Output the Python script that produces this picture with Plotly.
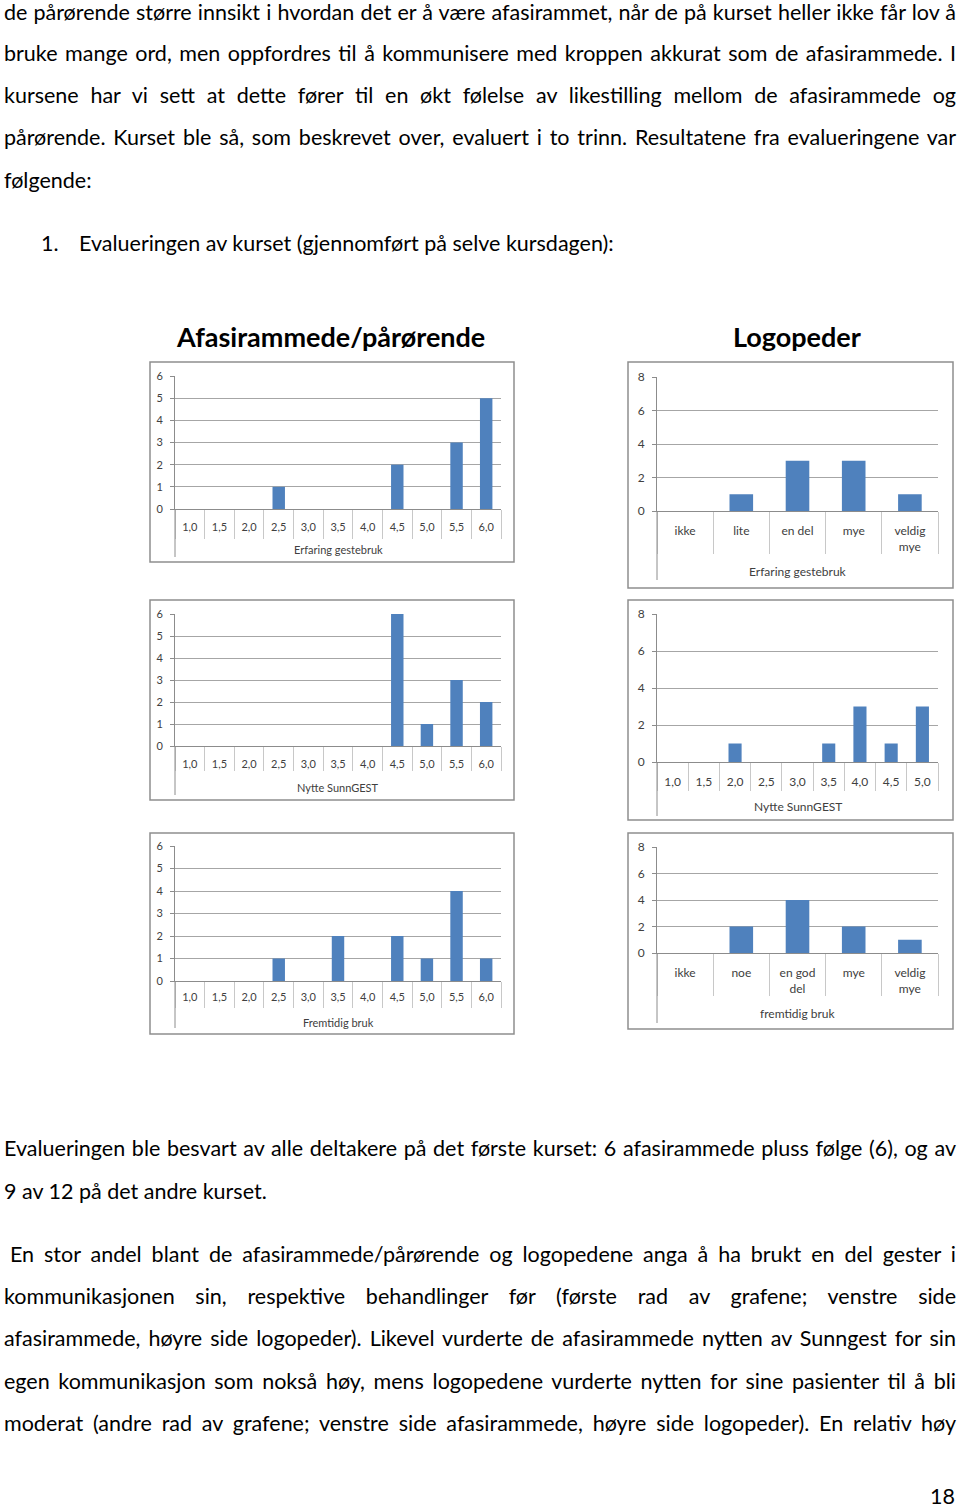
import json
import plotly.graph_objects as go

W, H = 960, 1509

# ---------------- data ----------------
afasi_cats = ["1,0", "1,5", "2,0", "2,5", "3,0", "3,5", "4,0", "4,5", "5,0", "5,5", "6,0"]
afasi_erfaring = [0, 0, 0, 1, 0, 0, 0, 2, 0, 3, 5]
afasi_nytte = [0, 0, 0, 0, 0, 0, 0, 6, 1, 3, 2]
afasi_fremtidig = [0, 0, 0, 1, 0, 2, 0, 2, 1, 4, 1]

logo_erfaring_cats = ["ikke", "lite", "en del", "mye", "veldig<br>mye"]
logo_erfaring = [0, 1, 3, 3, 1]
logo_nytte_cats = ["1,0", "1,5", "2,0", "2,5", "3,0", "3,5", "4,0", "4,5", "5,0"]
logo_nytte = [0, 0, 1, 0, 0, 1, 3, 1, 3]
logo_fremtidig_cats = ["ikke", "noe", "en god<br>del", "mye", "veldig<br>mye"]
logo_fremtidig = [0, 2, 4, 2, 1]

axis_titles = ["Erfaring gestebruk", "Erfaring gestebruk", "Nytte SunnGEST",
               "Nytte SunnGEST", "Fremtidig bruk", "fremtidig bruk"]
group_titles = ["Afasirammede/pårørende", "Logopeder"]

top_lines = [
    "de pårørende større innsikt i hvordan det er å være afasirammet, når de på kurset heller ikke får lov å",
    "bruke mange ord, men oppfordres til å kommunisere med kroppen akkurat som de afasirammede. I",
    "kursene har vi sett at dette fører til en økt følelse av likestilling mellom de afasirammede og",
    "pårørende. Kurset ble så, som beskrevet over, evaluert i to trinn. Resultatene fra evalueringene var",
    "følgende:",
]
list_number = "1."
list_item = "Evalueringen av kurset (gjennomført på selve kursdagen):"
bottom_lines = [
    "Evalueringen ble besvart av alle deltakere på det første kurset: 6 afasirammede pluss følge (6), og av",
    "9 av 12 på det andre kurset.",
    "En stor andel blant de afasirammede/pårørende og logopedene anga å ha brukt en del gester i",
    "kommunikasjonen sin, respektive behandlinger før (første rad av grafene; venstre side",
    "afasirammede, høyre side logopeder). Likevel vurderte de afasirammede nytten av Sunngest for sin",
    "egen kommunikasjon som nokså høy, mens logopedene vurderte nytten for sine pasienter til å bli",
    "moderat (andre rad av grafene; venstre side afasirammede, høyre side logopeder). En relativ høy",
]
page_number = "18"

# ---------------- layout helpers ----------------
def fx(p):
    return p / W

def fy(p):
    return 1 - p / H

BAR = "#4f81bd"
GRID = "#a6a6a6"
AXC = "#8c8c8c"
BOX = "#8e8e8e"
TXT = "#404040"
FONT = "Lato"

# panel geometry (pixels)
panels = [
    dict(cats=afasi_cats, vals=afasi_erfaring, box=(150, 362, 514, 562), x0=175, x1=501,
         ytop=376, yzero=509, ymax=6, dtick=1, tl=29, abot=557, fs=11, ty=549, so=8),
    dict(cats=logo_erfaring_cats, vals=logo_erfaring, box=(628, 362, 953, 588), x0=657, x1=938,
         ytop=377, yzero=511, ymax=8, dtick=2, tl=42, abot=580, fs=12, ty=572, so=9),
    dict(cats=afasi_cats, vals=afasi_nytte, box=(150, 600, 514, 800), x0=175, x1=501,
         ytop=614, yzero=746, ymax=6, dtick=1, tl=24, abot=795, fs=11, ty=787, so=8),
    dict(cats=logo_nytte_cats, vals=logo_nytte, box=(628, 600, 953, 820), x0=657, x1=938,
         ytop=614, yzero=762, ymax=8, dtick=2, tl=28, abot=816, fs=12, ty=806, so=9),
    dict(cats=afasi_cats, vals=afasi_fremtidig, box=(150, 833, 514, 1034), x0=175, x1=501,
         ytop=846, yzero=981, ymax=6, dtick=1, tl=26, abot=1028, fs=11, ty=1022, so=6),
    dict(cats=logo_fremtidig_cats, vals=logo_fremtidig, box=(628, 833, 953, 1029), x0=657, x1=938,
         ytop=847, yzero=953, ymax=8, dtick=2, tl=42, abot=1023, fs=12, ty=1013, so=9),
]

fig = go.Figure()
shapes = []
annotations = []
layout_axes = {}

for i, p in enumerate(panels, start=1):
    xa = f"x{i}"
    ya = f"y{i}"
    fig.add_trace(go.Bar(x=p["cats"], y=p["vals"], xaxis=xa, yaxis=ya,
                         marker=dict(color=BAR, line=dict(width=0)),
                         hoverinfo="skip", showlegend=False))
    bx0, by0, bx1, by1 = p["box"]
    shapes.append(dict(type="rect", xref="paper", yref="paper",
                       x0=fx(bx0), x1=fx(bx1), y0=fy(by1), y1=fy(by0),
                       line=dict(color=BOX, width=1.5), fillcolor="white", layer="below"))
    shapes.append(dict(type="line", xref="paper", yref="paper",
                       x0=fx(p["x0"]), x1=fx(p["x0"]), y0=fy(p["yzero"]), y1=fy(p["abot"]),
                       line=dict(color=AXC, width=1), layer="above"))
    n = len(p["cats"])
    layout_axes[f"xaxis{i}"] = dict(
        domain=[fx(p["x0"]), fx(p["x1"])], anchor=ya, type="category",
        categoryorder="array", categoryarray=p["cats"], range=[-0.5, n - 0.5],
        tickson="boundaries", ticks="outside", ticklen=p["tl"], tickcolor="#c8c8c8",
        tickwidth=1, showline=True, linecolor=AXC, linewidth=1, showgrid=False,
        tickfont=dict(family=FONT, size=p["fs"], color=TXT), ticklabelstandoff=p["so"],
        fixedrange=True, zeroline=False, automargin=False)
    layout_axes[f"yaxis{i}"] = dict(
        domain=[fy(p["yzero"]), fy(p["ytop"])], anchor=xa, range=[0, p["ymax"]],
        dtick=p["dtick"], tick0=0, showgrid=True, gridcolor=GRID, gridwidth=1,
        ticks="outside", ticklen=4, tickcolor=AXC, showline=True, linecolor=AXC,
        zeroline=False, tickfont=dict(family=FONT, size=p["fs"], color=TXT),
        ticklabelstandoff=5, fixedrange=True, automargin=False)
    annotations.append(dict(text=axis_titles[i - 1], xref="paper", yref="paper",
                            x=fx((p["x0"] + p["x1"]) / 2), y=fy(p["ty"]),
                            xanchor="center", yanchor="middle", showarrow=False,
                            font=dict(family=FONT, size=p["fs"], color=TXT)))

# group titles
for t, cx in zip(group_titles, [330, 797]):
    annotations.append(dict(text=f"<b>{t}</b>", xref="paper", yref="paper",
                            x=fx(cx), y=fy(337), xanchor="center", yanchor="middle",
                            showarrow=False, font=dict(family=FONT, size=27, color="#000")))

# body text
BODY = 21.5
LEFT, RIGHT = 3, 955
justify = {}

def add_line(text, x, y, just):
    idx = len(annotations)
    annotations.append(dict(text=text, xref="paper", yref="paper", x=fx(x), y=fy(y),
                            xanchor="left", yanchor="middle", showarrow=False, borderpad=0,
                            font=dict(family=FONT, size=BODY, color="#000")))
    if just:
        justify[idx] = RIGHT - x

top_y = [12, 53, 95, 137, 180]
for k, (t, y) in enumerate(zip(top_lines, top_y)):
    add_line(t, LEFT, y, k < len(top_lines) - 1)
add_line(list_number, 40, 243, False)
add_line(list_item, 78, 243, False)

bottom_y = [1148, 1191, 1254, 1296, 1338, 1381, 1423]
bottom_x = [LEFT, LEFT, 9, LEFT, LEFT, LEFT, LEFT]
bottom_just = [True, False, True, True, True, True, True]
for t, y, x, j in zip(bottom_lines, bottom_y, bottom_x, bottom_just):
    add_line(t, x, y, j)

annotations.append(dict(text=page_number, xref="paper", yref="paper", x=fx(956), y=fy(1496),
                        xanchor="right", yanchor="middle", showarrow=False, borderpad=0,
                        font=dict(family=FONT, size=BODY, color="#000")))

fig.update_layout(width=W, height=H,
                  margin=dict(l=0, r=0, t=0, b=0, pad=0, autoexpand=False),
                  paper_bgcolor="white", plot_bgcolor="rgba(0,0,0,0)",
                  bargap=0.58, showlegend=False, shapes=shapes, annotations=annotations,
                  font=dict(family=FONT), **layout_axes)

post = """
document.documentElement.style.margin = '0';
document.body.style.margin = '0';
document.body.style.padding = '0';
var gd = document.querySelector('.js-plotly-plot');
gd.style.position = 'absolute';
gd.style.left = '0px';
gd.style.top = '0px';
var J = %s;
gd.querySelectorAll('g.annotation').forEach(function(g){
  var idx = g.getAttribute('data-index');
  if (!(idx in J)) return;
  var t = g.querySelector('text.annotation-text');
  if (!t) return;
  var bb = t.getBBox();
  var w = t.getComputedTextLength();
  var n = (t.textContent.trim().match(/ /g) || []).length;
  if (!n) return;
  var ws = (J[idx] - w) / n;
  t.setAttribute('text-anchor', 'start');
  t.setAttribute('x', bb.x);
  t.querySelectorAll('tspan').forEach(function(s){ if (s.hasAttribute('x')) s.setAttribute('x', bb.x); });
  t.style.wordSpacing = ws + 'px';
});
""" % json.dumps({str(k): v for k, v in justify.items()})

fig.write_html("out.html", config={"displayModeBar": False, "staticPlot": True}, post_script=post)
